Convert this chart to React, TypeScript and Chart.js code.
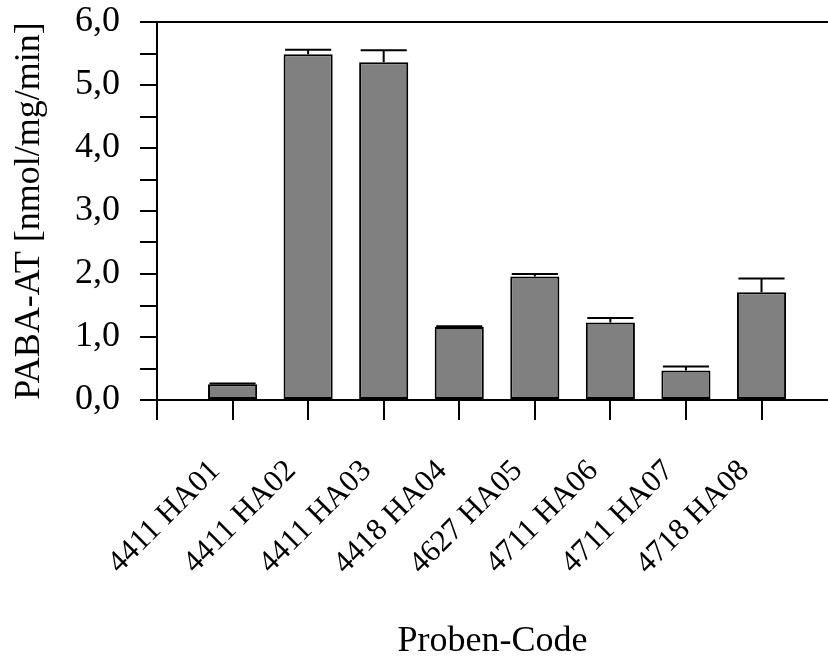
import React, { useEffect, useRef } from "react";
import { Chart, registerables } from "chart.js";

Chart.register(...registerables);

const categories = [
  "4411 HA01",
  "4411 HA02",
  "4411 HA03",
  "4418 HA04",
  "4627 HA05",
  "4711 HA06",
  "4711 HA07",
  "4718 HA08",
];
const values = [0.25, 5.49, 5.36, 1.16, 1.96, 1.23, 0.47, 1.71];
const errors = [0.01, 0.07, 0.19, 0.01, 0.04, 0.07, 0.06, 0.22];
const yTicks = [0, 1, 2, 3, 4, 5, 6];
const yTitle = "PABA-AT [nmol/mg/min]";
const xTitle = "Proben-Code";

const FONT = "'Liberation Serif', 'Times New Roman', serif";

const errorBarPlugin = {
  id: "errorBars",
  afterDatasetsDraw(chart: any) {
    const { ctx } = chart;
    const meta = chart.getDatasetMeta(0);
    const yScale = chart.scales.y;
    ctx.save();
    ctx.strokeStyle = "#000";
    ctx.lineWidth = 2;
    meta.data.forEach((bar: any, i: number) => {
      const p = bar.getProps(["x", "y", "width"], true);
      const top = yScale.getPixelForValue(values[i] + errors[i]);
      const half = p.width / 2 - 1.5;
      ctx.beginPath();
      ctx.moveTo(p.x, p.y);
      ctx.lineTo(p.x, top);
      ctx.moveTo(p.x - half, top);
      ctx.lineTo(p.x + half, top);
      ctx.stroke();
    });
    ctx.restore();
  },
};

export default function App() {
  const ref = useRef<HTMLCanvasElement>(null);
  useEffect(() => {
    if (!ref.current) return;
    const chart = new Chart(ref.current, {
      type: "bar",
      data: {
        datasets: [
          {
            data: values.map((v, i) => ({ x: i + 1, y: v })),
            backgroundColor: "#808080",
            borderColor: "#000",
            borderWidth: 2,
            borderSkipped: false,
            categoryPercentage: 1,
            barPercentage: 0.65,
          } as any,
        ],
      },
      plugins: [errorBarPlugin],
      options: {
        animation: false,
        responsive: true,
        maintainAspectRatio: false,
        layout: { padding: { top: 0, left: 0, right: 0, bottom: 0 } },
        plugins: {
          legend: { display: false },
          tooltip: { enabled: false },
        },
        scales: {
          x: {
            type: "linear",
            offset: false,
            min: 0,
            max: 8.88,
            afterBuildTicks: (scale: any) => {
              scale.ticks = scale.ticks.filter((t: any) => Number.isInteger(t.value));
            },
            afterFit: (scale: any) => {
              scale.height = 261;
            },
            ticks: {
              stepSize: 1,
              autoSkip: false,
              maxRotation: 45,
              minRotation: 45,
              padding: 33,
              labelOffset: -17,
              color: "#000",
              font: { family: FONT, size: 31 },
              callback: (v: any) => categories[Number(v) - 1] ?? "",
            },
            grid: {
              display: true,
              offset: false,
              drawOnChartArea: false,
              drawTicks: true,
              tickLength: 20,
              color: "#000",
              lineWidth: 2,
            },
            border: { display: true, color: "#000", width: 2 },
            title: {
              display: true,
              text: xTitle,
              color: "#000",
              font: { family: FONT, size: 36, lineHeight: 1 },
              padding: { top: 0, bottom: 1 },
            },
          },
          y: {
            min: yTicks[0],
            max: yTicks[yTicks.length - 1],
            afterFit: (scale: any) => {
              scale.width = 157;
              scale.paddingTop = 22;
              scale.paddingBottom = 0;
            },
            ticks: {
              stepSize: 0.5,
              autoSkip: false,
              padding: 20,
              color: "#000",
              font: { family: FONT, size: 36 },
              callback: (v: any) =>
                yTicks.includes(Number(v)) ? Number(v).toFixed(1).replace(".", ",") : "",
            },
            grid: {
              display: true,
              drawOnChartArea: true,
              drawTicks: true,
              tickLength: 17,
              lineWidth: 2,
              tickColor: "#000",
              color: (ctx: any) =>
                ctx.tick && (ctx.tick.value === yTicks[0] || ctx.tick.value === yTicks[yTicks.length - 1])
                  ? "#000"
                  : "rgba(0,0,0,0)",
            },
            border: { display: true, color: "#000", width: 2 },
            title: {
              display: true,
              text: yTitle,
              color: "#000",
              font: { family: FONT, size: 36 },
              padding: { top: 8, bottom: 0 },
            },
          },
        },
      },
    });
    return () => chart.destroy();
  }, []);
  return (
    <div style={{ position: "fixed", left: 0, top: 0, width: 828, height: 661 }}>
      <canvas ref={ref} />
    </div>
  );
}
